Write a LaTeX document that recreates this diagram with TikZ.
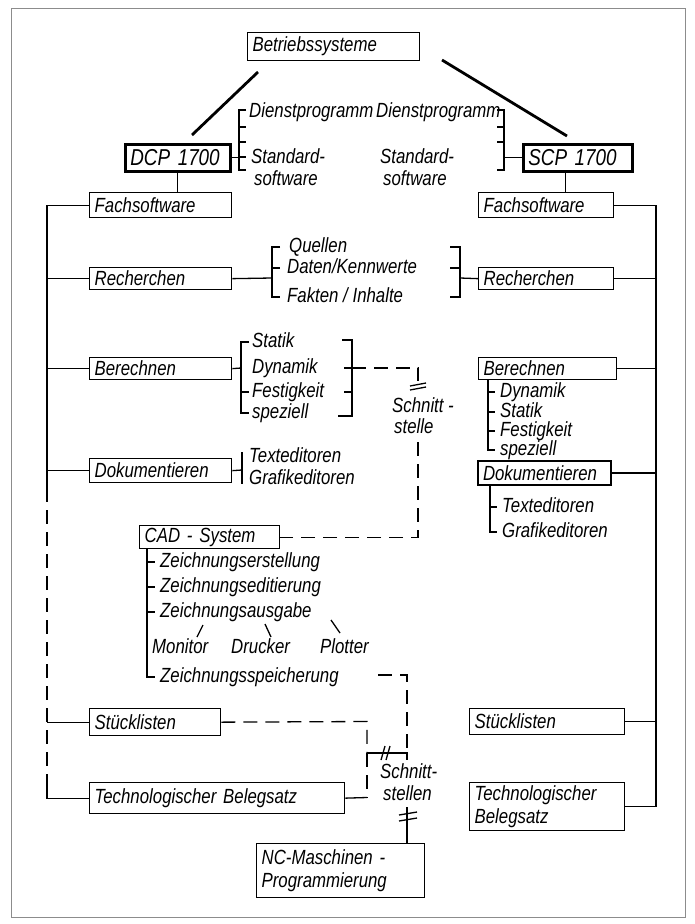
\documentclass[tikz,border=0pt]{standalone}
\usepackage{fontspec}
\newfontfamily\labfam{Liberation Sans}[FakeStretch=0.82]
\newcommand\labf{\labfam\itshape\fontsize{20.5}{23}\selectfont}
\newcommand\bigf{\labfam\itshape\fontsize{23}{25}\selectfont}
\usetikzlibrary{calc}
\begin{document}
\begin{tikzpicture}[x=1pt,y=-1pt,
 box/.style={draw, line width=1.3pt, inner xsep=5pt, inner ysep=0pt, anchor=north west, align=left, font=\labf},
 tbox/.style={box, line width=2.6pt, font=\bigf},
 lab/.style={anchor=west, inner sep=0pt, font=\labf, text height=14pt, text depth=4pt},
 ln/.style={line width=1.3pt},
 thk/.style={line width=2.8pt},
 dsh/.style={line width=1.3pt, dash pattern=on 14pt off 8pt},
 frm/.style={draw=black!45, line width=0.8pt}]
\useasboundingbox (0,0) rectangle (694,924);
\draw[frm] (11,8) rectangle (685,917);

% boxes
\node[box, text width=162pt, minimum height=28pt] (bs) at (247,32) {Betriebssysteme};
\node[tbox, text width=95pt, minimum height=27pt] (dcp) at (124,143) {DCP 1700};
\node[tbox, text width=99pt, minimum height=27pt] (scp) at (522,143) {SCP 1700};
\node[box, text width=132pt, minimum height=25pt] (fachL) at (89,192) {Fachsoftware};
\node[box, text width=125pt, minimum height=25pt] (fachR) at (478,192) {Fachsoftware};
\node[box, text width=132pt, minimum height=22pt] (recL) at (89,267) {Recherchen};
\node[box, text width=125pt, minimum height=22pt] (recR) at (478,267) {Recherchen};
\node[box, text width=132pt, minimum height=22pt] (berL) at (89,357) {Berechnen};
\node[box, text width=128pt, minimum height=22pt] (berR) at (478,357) {Berechnen};
\node[box, text width=132pt, minimum height=24pt] (dokL) at (89,458) {Dokumentieren};
\node[box, line width=2pt, text width=123pt, minimum height=24pt] (dokR) at (477,460) {Dokumentieren};
\node[box, text width=130pt, minimum height=23pt] (cad) at (139,525) {CAD - System};
\node[box, text width=121pt, minimum height=27pt] (stL) at (89,708) {Stücklisten};
\node[box, text width=145pt, minimum height=26pt] (stR) at (469,708) {Stücklisten};
\node[box, text width=245pt, minimum height=31pt] (techL) at (89,782) {Technologischer Belegsatz};
\node[box, text width=145pt, minimum height=48pt] (techR) at (469,782) {Technologischer\\Belegsatz};
\node[box, text width=158pt, minimum height=54pt] (nc) at (256,843) {NC-Maschinen -\\Programmierung};

% top
\coordinate (d1s) at (258,72); \coordinate (d1e) at (192,135);
\coordinate (d2s) at (442,60); \coordinate (d2e) at (567,136);
\draw[thk] (d1s) -- (d1e);
\draw[thk] (d2s) -- (d2e);
\node[lab] (dpL) at (249,112) {Dienstprogramm};
\node[lab] (dpR) at (376,112) {Dienstprogramm};
\node[lab] (sdL) at (251,158) {Standard-};
\node[lab] (swL) at (254,180) {software};
\node[lab] (sdR) at (380,158) {Standard-};
\node[lab] (swR) at (383,180) {software};
\coordinate (bl) at (239,110); \coordinate (br) at (504,110);
\draw[ln] (246,110) -- (bl) -- (239,170) -- (246,170);
\foreach \yy in {127,142,157} \draw[ln] (239,\yy) -- (246,\yy);
\draw[ln] (dcp.east) -- (dcp.east -| bl);
\draw[ln] (497,110) -- (br) -- (504,170) -- (497,170);
\foreach \yy in {127,142} \draw[ln] (504,\yy) -- (497,\yy);
\draw[ln] (scp.west) -- (scp.west -| br);
\draw[ln] (dcp.south) -- (dcp.south |- fachL.north);
\coordinate (sc) at ($(scp.south)+(-12,0)$);
\draw[ln] (sc) -- (sc |- fachR.north);

% trunks
\coordinate (tL) at (47,0); \coordinate (tR) at (656,0);
\coordinate (tLa) at (47,488); \coordinate (tLb) at (47,778);
\draw[ln] (fachL.west) -- (fachL.west -| tL) -- (tLa);
\draw[dsh] (tLa) -- (tLb);
\draw[ln] (tLb) -- (techL.west -| tL) -- (techL.west);
\foreach \n in {recL,berL,dokL,stL} \draw[ln] (\n.west -| tL) -- (\n.west);
\draw[ln] (fachR.east) -- (fachR.east -| tR) -- (techR.east -| tR) -- (techR.east);
\foreach \n in {recR,berR,dokR,stR} \draw[ln] (\n.east -| tR) -- (\n.east);

% Recherchen
\node[lab] (q1) at (289,247) {Quellen};
\node[lab] (q2) at (287,268) {Daten/Kennwerte};
\node[lab] (q3) at (287,297) {Fakten / Inhalte};
\coordinate (rb1) at (272,278); \coordinate (rb2) at (460,278);
\draw[ln] (recL.east) -- (rb1);
\draw[ln] (280,247) -- (272,247) -- (272,297) -- (280,297);
\draw[ln] (272,268) -- (280,268);
\draw[ln] (450,247) -- (460,247) -- (460,297) -- (450,297);
\draw[ln] (450,268) -- (460,268);
\draw[ln] (rb2) -- (recR.west);

% Berechnen left
\node[lab] (b1) at (252,342) {Statik};
\node[lab] (b2) at (252,368) {Dynamik};
\node[lab] (b3) at (252,392) {Festigkeit};
\node[lab] (b4) at (252,413) {speziell};
\coordinate (bb) at (241,368);
\draw[ln] (berL.east) -- (bb);
\draw[ln] (249,342) -- (241,342) -- (241,413) -- (249,413);
\draw[ln] (241,392) -- (249,392);
\draw[ln] (342,340) -- (352,340) -- (352,416) -- (338,416);
\draw[ln] (344,368) -- (352,368);
\draw[ln] (344,392) -- (352,392);
\coordinate (sA) at (352,368); \coordinate (sB) at (418,368); \coordinate (sC) at (418,381);
\draw[dsh] (sA) -- (sB) -- (sC);
\draw[ln] (410,386) -- (426,383);
\draw[ln] (410,390) -- (426,387);
\node[lab] (s1) at (392,407) {Schnitt -};
\node[lab] (s2) at (394,428) {stelle};
\coordinate (sD) at (418,442);
\draw[dsh] (sD) -- (sD |- cad.east) -- (cad.east);

% Dokumentieren left
\node[lab] (t1) at (249,457) {Texteditoren};
\node[lab] (t2) at (249,479) {Grafikeditoren};
\draw[ln] (dokL.east) -- (242,470);
\draw[ln] (242,452) -- (242,484);

% CAD
\coordinate (c0) at (147,548);
\draw[ln] (c0) -- (147,677) -- (155,677);
\foreach \yy in {562,587,612} \draw[ln] (147,\yy) -- (155,\yy);
\node[lab] (z1) at (160,562) {Zeichnungserstellung};
\node[lab] (z2) at (160,587) {Zeichnungseditierung};
\node[lab] (z3) at (160,612) {Zeichnungsausgabe};
\node[lab] (z4) at (160,677) {Zeichnungsspeicherung};
\node[lab] (m1) at (152,648) {Monitor};
\node[lab] (m2) at (231,648) {Drucker};
\node[lab] (m3) at (320,648) {Plotter};
\draw[ln] (197,637) -- (203,625);
\draw[ln] (265,624) -- (271,637);
\draw[ln] (331,620) -- (340,633);

% Schnittstellen
\coordinate (j1) at (367,721.5); \coordinate (j2) at (367,753);
\coordinate (j3) at (407,753); \coordinate (j4) at (407,675);
\coordinate (j5) at (378,675); \coordinate (j6) at (367,797.5);
\draw[dsh] (stL.east) -- (j1) -- (j2);
\draw[ln] (j2) -- (j3) -- ++(0,7);
\draw[dsh] (j5) -- (j4) -- (j3);
\draw[dsh] (j2) -- (j6);
\draw[ln] (j6) -- (techL.east);
\draw[ln] (381,760) -- (385,746);
\draw[ln] (386,760) -- (390,746);
\node[lab] (s3) at (380,773) {Schnitt-};
\node[lab] (s4) at (383,795) {stellen};
\coordinate (n0) at (407,807);
\draw[ln] (n0) -- (n0 |- nc.north);
\draw[ln] (399,815) -- (417,812);
\draw[ln] (399,821) -- (417,818);

% right lists
\draw[ln] (488,379) -- (488,450) -- (495,450);
\foreach \yy in {392,412,431} \draw[ln] (488,\yy) -- (495,\yy);
\node[lab] (r1) at (500,392) {Dynamik};
\node[lab] (r2) at (500,412) {Statik};
\node[lab] (r3) at (500,431) {Festigkeit};
\node[lab] (r4) at (500,450) {speziell};
\draw[ln] (490,484) -- (490,532) -- (497,532);
\draw[ln] (490,507) -- (497,507);
\node[lab] (r5) at (502,507) {Texteditoren};
\node[lab] (r6) at (502,532) {Grafikeditoren};
\end{tikzpicture}
\end{document}
